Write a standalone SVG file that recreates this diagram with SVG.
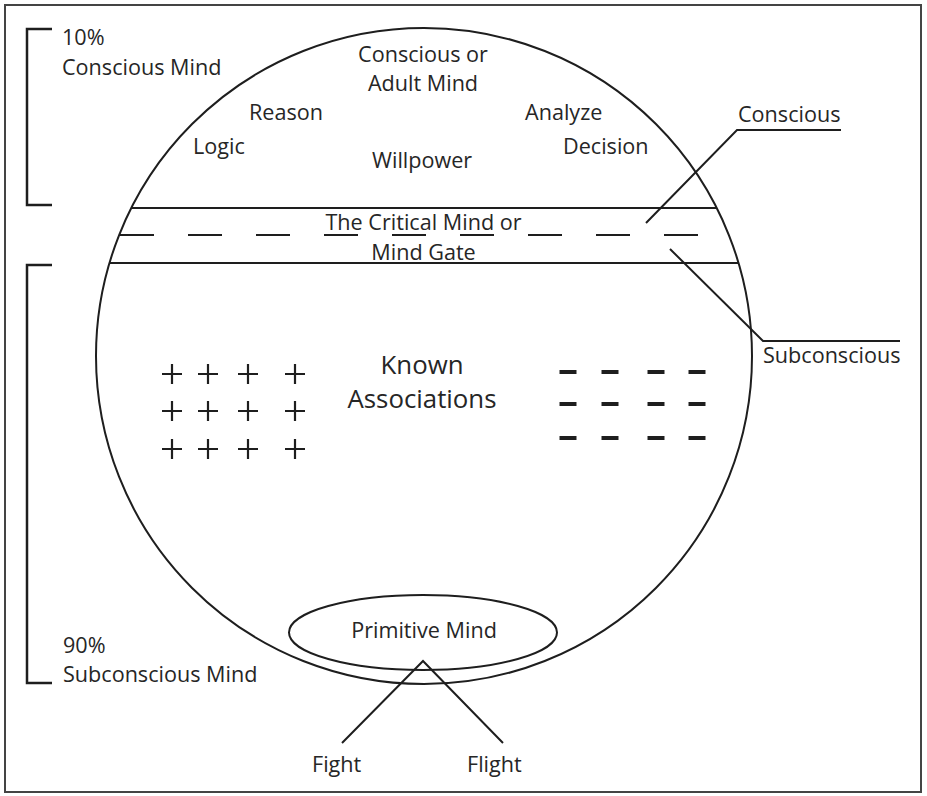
<svg xmlns="http://www.w3.org/2000/svg" width="927" height="796" viewBox="0 0 927 796">
  <style>
    .ln { fill: none; stroke: #1e1e1e; stroke-width: 2; }
    .br { fill: none; stroke: #1e1e1e; stroke-width: 2.5; }
    .t { font-family: "Open Sans", "Noto Sans", sans-serif; font-size: 21.6px; fill: #262626; }
    .c { text-anchor: middle; }
    .big { font-size: 25.8px; }
    .plus { stroke: #1e1e1e; stroke-width: 2.2; }
    .minus { stroke: #1e1e1e; stroke-width: 4; }
  </style>
  <defs>
    <path id="p" d="M-10,0 H10 M0,-10 V10" class="plus"/>
    <path id="m" d="M-8.5,0 H8.5" class="minus"/>
  </defs>

  <rect x="0" y="0" width="927" height="796" fill="#ffffff"/>
  <rect x="5" y="5" width="916" height="787" fill="none" stroke="#444" stroke-width="2"/>

  <!-- percentage brackets -->
  <g id="conscious-share">
    <path class="br" d="M52,29 H27 V205 H52"/>
    <text class="t" x="62" y="45">10%</text>
    <text class="t" x="62" y="75">Conscious Mind</text>
  </g>
  <g id="subconscious-share">
    <path class="br" d="M52,265 H27 V683 H52"/>
    <text class="t" x="63" y="653">90%</text>
    <text class="t" x="63" y="682">Subconscious Mind</text>
  </g>

  <!-- the mind -->
  <g id="mind">
    <circle class="ln" cx="424" cy="356" r="328"/>
  </g>

  <g id="conscious-area">
    <text class="t c" x="423" y="62">Conscious or</text>
    <text class="t c" x="423" y="91">Adult Mind</text>
    <text class="t" x="249" y="120">Reason</text>
    <text class="t" x="193" y="154">Logic</text>
    <text class="t" x="372" y="168">Willpower</text>
    <text class="t" x="525" y="120">Analyze</text>
    <text class="t" x="563" y="154">Decision</text>
  </g>

  <g id="critical-mind">
    <line class="ln" x1="131" y1="208" x2="717" y2="208"/>
    <line class="ln" x1="109" y1="263" x2="739" y2="263"/>
    <line class="ln" x1="120" y1="235" x2="700" y2="235" stroke-dasharray="34 34"/>
    <text class="t c" x="423.5" y="230">The Critical Mind or</text>
    <text class="t c" x="423.5" y="260">Mind Gate</text>
  </g>

  <g id="known-associations">
    <text class="t c big" x="422" y="374">Known</text>
    <text class="t c big" x="422" y="408">Associations</text>
    <g id="positives">
      <use href="#p" x="172" y="374"/><use href="#p" x="208" y="374"/><use href="#p" x="248" y="374"/><use href="#p" x="295" y="374"/>
      <use href="#p" x="172" y="411"/><use href="#p" x="208" y="411"/><use href="#p" x="248" y="411"/><use href="#p" x="295" y="411"/>
      <use href="#p" x="172" y="449"/><use href="#p" x="208" y="449"/><use href="#p" x="248" y="449"/><use href="#p" x="295" y="449"/>
    </g>
    <g id="negatives">
      <use href="#m" x="568" y="372"/><use href="#m" x="610" y="372"/><use href="#m" x="656" y="372"/><use href="#m" x="697" y="372"/>
      <use href="#m" x="568" y="404"/><use href="#m" x="610" y="404"/><use href="#m" x="656" y="404"/><use href="#m" x="697" y="404"/>
      <use href="#m" x="568" y="438"/><use href="#m" x="610" y="438"/><use href="#m" x="656" y="438"/><use href="#m" x="697" y="438"/>
    </g>
  </g>

  <g id="primitive-mind">
    <ellipse class="ln" cx="423" cy="632.5" rx="134" ry="37.5"/>
    <text class="t c" x="424" y="638">Primitive Mind</text>
  </g>

  <g id="conscious-label">
    <text class="t" x="738" y="122">Conscious</text>
  </g>
  <g id="subconscious-label">
    <text class="t" x="763" y="363">Subconscious</text>
  </g>
  <g id="fight">
    <text class="t" x="312" y="772">Fight</text>
  </g>
  <g id="flight">
    <text class="t" x="467" y="772">Flight</text>
  </g>

  <!-- leader lines -->
  <g id="connectors">
    <polyline class="ln" points="646,223 737,130 841,130"/>
    <polyline class="ln" points="670,249 763,341 900,341"/>
    <polyline class="ln" points="342,743 423,661 503,743"/>
  </g>
</svg>
